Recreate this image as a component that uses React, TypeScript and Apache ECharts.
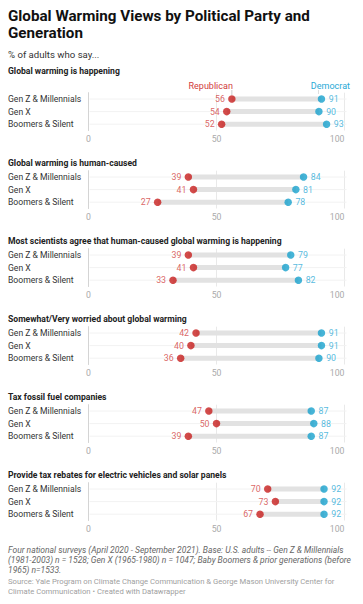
import React, { useEffect, useRef } from "react";
import * as echarts from "echarts";

const categories = ["Gen Z & Millennials", "Gen X", "Boomers & Silent"];
const questions = [
  "Global warming is happening",
  "Global warming is human-caused",
  "Most scientists agree that human-caused global warming is happening",
  "Somewhat/Very worried about global warming",
  "Tax fossil fuel companies",
  "Provide tax rebates for electric vehicles and solar panels",
];
const republican = [
  [56, 54, 52],
  [39, 41, 27],
  [39, 41, 33],
  [42, 40, 36],
  [47, 50, 39],
  [70, 73, 67],
];
const democrat = [
  [91, 90, 93],
  [84, 81, 78],
  [79, 77, 82],
  [91, 91, 90],
  [87, 88, 87],
  [92, 92, 92],
];
const xTicks = [0, 50, 100];

const W = 363;
const H = 604;
const FONT = "Roboto, 'Noto Sans', sans-serif";
const RED = "#c71e1d";
const RED_TXT = "#d13b3b";
const BLUE = "#18a1cd";
const BLUE_TXT = "#29a9d6";
const LEFT = 88.5;
const RIGHT = 18.5;
const PLOT_W = W - LEFT - RIGHT;
const ROW = 12.6;
const FIRST_ROW = 99;
const PITCH = 78;

export default function App() {
  const ref = useRef<HTMLDivElement>(null);

  useEffect(() => {
    document.body.style.margin = "0";
    if (!ref.current) return;
    const chart = echarts.init(ref.current, undefined, { renderer: "svg" });

    const grids: any[] = [];
    const xAxes: any[] = [];
    const yAxes: any[] = [];
    const series: any[] = [];
    const graphics: any[] = [];

    questions.forEach((q, i) => {
      const r0 = FIRST_ROW + PITCH * i;
      const top = r0 - ROW / 2;
      grids.push({ left: LEFT, right: RIGHT, top, height: ROW * 3 });
      xAxes.push({
        gridIndex: i,
        type: "value",
        min: xTicks[0],
        max: xTicks[xTicks.length - 1],
        interval: xTicks[1] - xTicks[0],
        axisLine: { show: false },
        axisTick: { show: false },
        splitLine: { show: true, lineStyle: { color: "#e9e9e9", width: 1 } },
        axisLabel: {
          color: "#aaaaaa",
          fontSize: 8.7,
          fontFamily: FONT,
          margin: 3.5,
          alignMaxLabel: "right",
        },
      });
      yAxes.push({
        gridIndex: i,
        type: "category",
        data: categories,
        inverse: true,
        axisLine: { show: true, lineStyle: { color: "#d4d4d4", width: 1 } },
        axisTick: { show: false },
        splitLine: { show: false },
        axisLabel: {
          interval: 0,
          align: "left",
          margin: LEFT - 8,
          color: "#333333",
          fontSize: 8.6,
          fontFamily: FONT,
        },
      });
      series.push({
        type: "custom",
        xAxisIndex: i,
        yAxisIndex: i,
        silent: true,
        encode: { x: [0, 1], y: 2 },
        data: categories.map((_, j) => [republican[i][j], democrat[i][j], j]),
        renderItem: (params: any, api: any) => {
          const a = api.coord([api.value(0), api.value(2)]);
          const b = api.coord([api.value(1), api.value(2)]);
          const s = api.coord([0, api.value(2)]);
          const e = api.coord([100, api.value(2)]);
          return {
            type: "group",
            children: [
              {
                type: "line",
                shape: { x1: s[0] + 1, y1: s[1], x2: e[0] + 2, y2: e[1] },
                style: { stroke: "#f2f2f2", lineWidth: 1 },
              },
              {
                type: "rect",
                shape: { x: a[0], y: a[1] - 2.5, width: b[0] - a[0], height: 5 },
                style: { fill: "#e2e2e2" },
              },
            ],
          };
        },
        z: 1,
      });
      series.push({
        type: "scatter",
        xAxisIndex: i,
        yAxisIndex: i,
        symbolSize: 7.5,
        itemStyle: { color: RED },
        data: categories.map((_, j) => [republican[i][j], j]),
        label: {
          show: true,
          position: "left",
          distance: 3.2,
          color: RED_TXT,
          fontSize: 8.8,
          fontFamily: FONT,
          formatter: (p: any) => String(p.value[0]),
        },
        z: 3,
      });
      series.push({
        type: "scatter",
        xAxisIndex: i,
        yAxisIndex: i,
        symbolSize: 7.5,
        itemStyle: { color: BLUE },
        data: categories.map((_, j) => [democrat[i][j], j]),
        label: {
          show: true,
          position: "right",
          distance: 3.5,
          color: BLUE_TXT,
          fontSize: 8.8,
          fontFamily: FONT,
          formatter: (p: any) => String(p.value[0]),
        },
        z: 3,
      });
      const headY = i === 0 ? 72 : r0 - 13.5;
      graphics.push({
        type: "text",
        left: 8,
        top: headY - 5.5,
        style: {
          text: q,
          fill: "#222222",
          font: `bold 8.6px ${FONT}`,
        },
      });
    });

    const xr = LEFT + (republican[0][0] / 100) * PLOT_W;
    const xd = LEFT + (democrat[0][0] / 100) * PLOT_W;
    graphics.push(
      {
        type: "text",
        x: xr + 1,
        y: 85.5,
        style: {
          text: "Republican",
          fill: RED_TXT,
          font: `9px ${FONT}`,
          align: "right",
          verticalAlign: "middle",
        },
      },
      {
        type: "line",
        shape: { x1: xr, y1: 90, x2: xr, y2: 95 },
        style: { stroke: "#cccccc", lineWidth: 1 },
      },
      {
        type: "text",
        x: 350,
        y: 85.5,
        style: {
          text: "Democrat",
          fill: BLUE_TXT,
          font: `9px ${FONT}`,
          align: "right",
          verticalAlign: "middle",
        },
      },
      {
        type: "line",
        shape: { x1: xd - 3, y1: 90, x2: xd - 3, y2: 94 },
        style: { stroke: "#dddddd", lineWidth: 1 },
      },
      {
        type: "text",
        left: 8,
        top: 8,
        style: {
          text: "Global Warming Views by Political Party and\nGeneration",
          fill: "#111111",
          font: `bold 15.2px ${FONT}`,
          lineHeight: 16.7,
        },
      },
      {
        type: "text",
        left: 8,
        top: 49.5,
        style: {
          text: "% of adults who say...",
          fill: "#333333",
          font: `9.6px ${FONT}`,
        },
      },
      {
        type: "text",
        left: 8,
        top: 545,
        style: {
          text:
            "Four national surveys (April 2020 - September 2021). Base: U.S. adults -- Gen Z & Millennials\n(1981-2003) n = 1528; Gen X (1965-1980) n = 1047; Baby Boomers & prior generations (before\n1965) n=1533.",
          fill: "#666666",
          font: `italic 8.5px ${FONT}`,
          lineHeight: 9.8,
        },
      },
      {
        type: "text",
        left: 8,
        top: 577,
        style: {
          text:
            "Source: Yale Program on Climate Change Communication & George Mason University Center for\nClimate Communication • Created with Datawrapper",
          fill: "#a0a0a0",
          font: `7.7px ${FONT}`,
          lineHeight: 9.5,
        },
      }
    );

    chart.setOption({
      animation: false,
      backgroundColor: "#ffffff",
      grid: grids,
      xAxis: xAxes,
      yAxis: yAxes,
      series,
      graphic: graphics,
    });
    return () => chart.dispose();
  }, []);

  return <div ref={ref} style={{ width: W, height: H }} />;
}
